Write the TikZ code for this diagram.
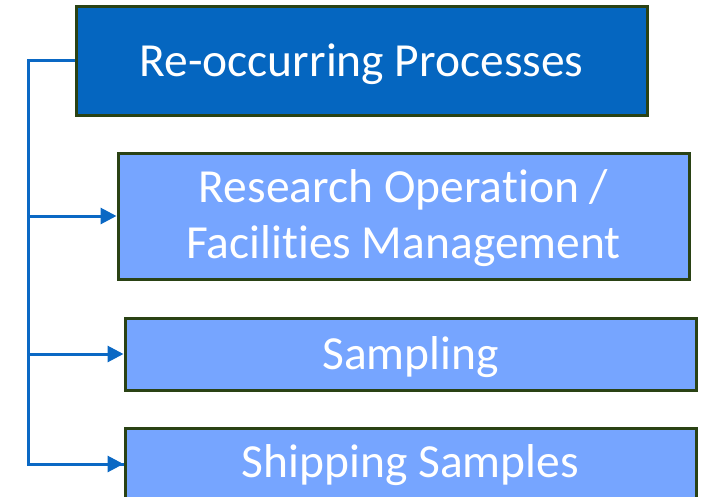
\documentclass[tikz,border=0pt]{standalone}
\usepackage{fontspec}
\setmainfont{Carlito}[Ligatures={NoCommon,NoContextual,NoRare},Contextuals=NoAlternate]
\usetikzlibrary{arrows.meta}
\definecolor{darkfill}{HTML}{0566C0}
\definecolor{lightfill}{HTML}{76A5FF}
\definecolor{edge}{HTML}{2A4214}
\definecolor{conncol}{HTML}{0A68C4}
\tikzset{
  box/.style={draw=edge, line width=3pt, rectangle, minimum width=571pt, inner sep=0pt},
  txt/.style={text=white, align=center, font=\fontsize{47.5}{56}\selectfont, inner sep=0pt, anchor=base},
  conn/.style={draw=conncol, line width=3pt},
  tip/.style={-{Triangle[length=16pt,width=16pt]}}
}
\begin{document}
\begin{tikzpicture}[x=1pt,y=-1pt]
\useasboundingbox (0,0) rectangle (705,496);
\node[box, fill=darkfill, minimum height=109pt] (top) at (361.5,60.5) {};
\node[box, fill=lightfill, minimum height=126pt] (b2) at (403.5,216) {};
\node[box, fill=lightfill, minimum height=72pt] (b3) at (410.5,354) {};
\node[box, fill=lightfill, minimum height=72pt] (b4) at (410.5,464) {};
\node[txt] (t1) at (361.5,76.7) {Re-occurring Processes};
\node[txt] (t2a) at (403.5,202) {Research Operation /};
\node[txt] (t2b) at (403.5,258) {Facilities Management};
\node[txt] (t3) at (410.5,369) {Sampling};
\node[txt] (t4) at (410.5,477) {Shipping Samples};
\coordinate (s) at (28,60.5);
\draw[conn] (top.west) -- (s) |- (b4.west);
\draw[conn, tip] (s |- b4.west) -- (b4.west);
\draw[conn, tip] (s |- b2.west) -- (b2.west);
\draw[conn, tip] (s |- b3.west) -- (b3.west);
\end{tikzpicture}
\end{document}
